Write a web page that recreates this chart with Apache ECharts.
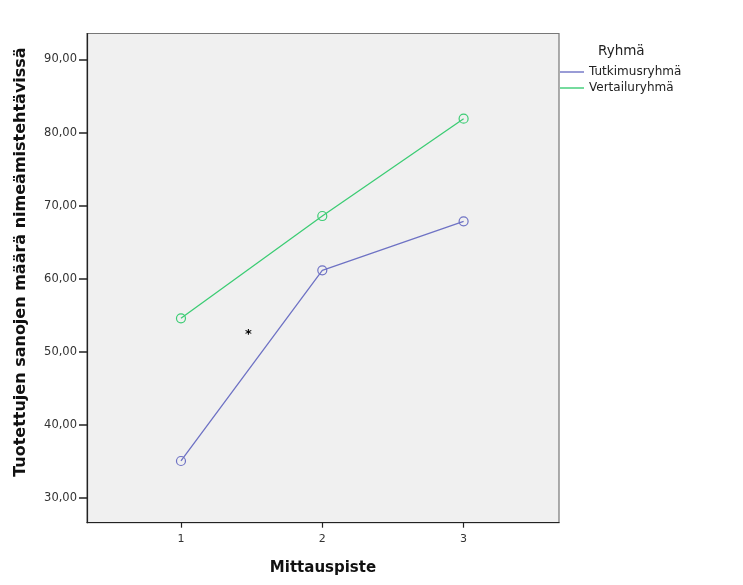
<!DOCTYPE html>
<html>
<head>
<meta charset="utf-8">
<script src="https://cdn.jsdelivr.net/npm/echarts@6/dist/echarts.min.js"></script>
<style>html,body{margin:0;padding:0;background:#fff;}#c{width:743px;height:585px;}</style>
</head>
<body>
<div id="c"></div>
<script>
var categories = [1, 2, 3];
var tutkimusryhma = [35.03, 61.14, 67.85];
var vertailuryhma = [54.56, 68.57, 81.9];
var yTicks = [30, 40, 50, 60, 70, 80, 90];
var seriesNames = ['Tutkimusryhmä', 'Vertailuryhmä'];
var legendTitle = 'Ryhmä';
var xTitle = 'Mittauspiste';
var yTitle = 'Tuotettujen sanojen määrä nimeämistehtävissä';

function pairs(vals){ return categories.map(function(c,i){ return [c, vals[i]]; }); }
var font = 'DejaVu Sans';
var colA = '#6e72c4', colB = '#3ccc74';
var chart = echarts.init(document.getElementById('c'));
chart.setOption({
  animation: false,
  backgroundColor: '#ffffff',
  title: {
    text: legendTitle, left: 598, top: 44, padding: 0,
    textStyle: { fontFamily: font, fontSize: 13.5, fontWeight: 'normal', color: '#222' }
  },
  legend: {
    orient: 'vertical', left: 560, top: 66, padding: 0,
    itemWidth: 24, itemHeight: 1.4, itemGap: 4, icon: 'rect',
    data: [
      { name: seriesNames[0], icon: 'rect', itemStyle: { color: colA, borderWidth: 0 } },
      { name: seriesNames[1], icon: 'rect', itemStyle: { color: colB, borderWidth: 0 } }
    ],
    textStyle: { fontFamily: font, fontSize: 12, color: '#222' }
  },
  grid: { left: 87, top: 33.5, right: 184, bottom: 62.3, outerBoundsMode: 'none', containLabel: false,
    show: true, backgroundColor: '#f0f0f0', borderColor: '#777', borderWidth: 1.2 },
  xAxis: {
    type: 'value', min: 0.335, max: 3.675,
    name: xTitle, nameLocation: 'middle', nameGap: 38,
    nameTextStyle: { fontFamily: font, fontSize: 15, fontWeight: 'bold', color: '#111' },
    axisLine: { onZero: false, lineStyle: { color: '#222', width: 1.2 } },
    axisTick: { show: true, length: 5, customValues: categories, lineStyle: { color: '#222', width: 1.2 } },
    axisLabel: { customValues: categories, fontFamily: font, fontSize: 11, color: '#333', margin: 11 },
    splitLine: { show: false }
  },
  yAxis: {
    type: 'value', min: 26.58, max: 93.56,
    name: yTitle, nameLocation: 'middle', nameGap: 58,
    nameTextStyle: { fontFamily: font, fontSize: 16, fontWeight: 'bold', color: '#111', padding: [0,0,0,32] },
    axisLine: { show: true, onZero: false, lineStyle: { color: '#222', width: 1.2 } },
    axisTick: { show: true, length: 8, customValues: yTicks, lineStyle: { color: '#222', width: 1.5 } },
    axisLabel: { customValues: yTicks, fontFamily: font, fontSize: 11.5, color: '#333', margin: 10,
      formatter: function(v){ return v.toFixed(2).replace('.', ','); } },
    splitLine: { show: false }
  },
  series: [
    { name: seriesNames[0], type: 'line', data: pairs(tutkimusryhma), color: colA,
      symbol: 'circle', symbolSize: 9, lineStyle: { width: 1.3, color: colA },
      itemStyle: { color: 'rgba(0,0,0,0)', borderColor: colA, borderWidth: 1.2 } },
    { name: seriesNames[1], type: 'line', data: pairs(vertailuryhma), color: colB,
      symbol: 'circle', symbolSize: 9, lineStyle: { width: 1.3, color: colB },
      itemStyle: { color: 'rgba(0,0,0,0)', borderColor: colB, borderWidth: 1.2 } }
  ],
  graphic: [
    { type: 'text', left: 245, top: 328, style: { text: '*', fontFamily: font, fontSize: 13, fontWeight: 'bold', fill: '#000' } }
  ]
});
</script>
</body>
</html>
